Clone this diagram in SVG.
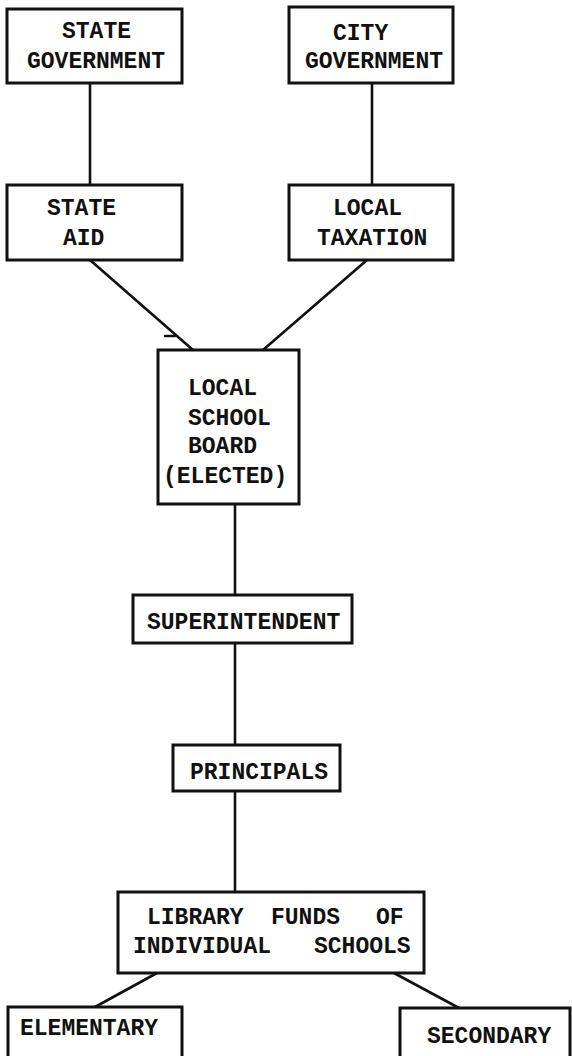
<svg xmlns="http://www.w3.org/2000/svg" width="572" height="1056" viewBox="0 0 572 1056">
  <style>
    .box { fill: #fff; stroke: #111; stroke-width: 3; }
    .wire { stroke: #111; stroke-width: 2.6; fill: none; stroke-linecap: round; }
    .lbl { font-family: "Liberation Mono", "DejaVu Sans Mono", monospace; font-size: 23px; font-weight: bold; fill: #111; }
  </style>
  <rect width="572" height="1056" fill="#fff"/>

  <!-- connectors -->
  <g id="connectors">
    <line class="wire" x1="90" y1="83" x2="90" y2="185"/>
    <line class="wire" x1="372" y1="83" x2="372" y2="185"/>
    <line class="wire" x1="90" y1="260" x2="193" y2="350"/>
    <line class="wire" x1="367" y1="260" x2="263" y2="350"/>
    <line class="wire" x1="165" y1="336" x2="175" y2="336" stroke-width="1.5"/>
    <line class="wire" x1="235" y1="504" x2="235" y2="595"/>
    <line class="wire" x1="235" y1="643" x2="235" y2="745"/>
    <line class="wire" x1="235" y1="791" x2="235" y2="892"/>
    <line class="wire" x1="157" y1="973" x2="95" y2="1007"/>
    <line class="wire" x1="394" y1="973" x2="459" y2="1008"/>
  </g>

  <g id="state-government">
    <rect class="box" x="7" y="9" width="175" height="74"/>
    <text class="lbl" x="62" y="38">STATE</text>
    <text class="lbl" x="27" y="68">GOVERNMENT</text>
  </g>

  <g id="city-government">
    <rect class="box" x="289" y="7" width="164" height="76"/>
    <text class="lbl" x="333" y="40">CITY</text>
    <text class="lbl" x="305" y="68">GOVERNMENT</text>
  </g>

  <g id="state-aid">
    <rect class="box" x="7" y="185" width="175" height="75"/>
    <text class="lbl" x="47" y="215">STATE</text>
    <text class="lbl" x="63" y="245">AID</text>
  </g>

  <g id="local-taxation">
    <rect class="box" x="289" y="185" width="164" height="75"/>
    <text class="lbl" x="333" y="215">LOCAL</text>
    <text class="lbl" x="317" y="245">TAXATION</text>
  </g>

  <g id="local-school-board">
    <rect class="box" x="158" y="350" width="141" height="154"/>
    <text class="lbl" x="188" y="395">LOCAL</text>
    <text class="lbl" x="188" y="425">SCHOOL</text>
    <text class="lbl" x="188" y="453">BOARD</text>
    <text class="lbl" x="163" y="483">(ELECTED)</text>
  </g>

  <g id="superintendent">
    <rect class="box" x="133" y="595" width="219" height="48"/>
    <text class="lbl" x="147" y="629">SUPERINTENDENT</text>
  </g>

  <g id="principals">
    <rect class="box" x="173" y="745" width="167" height="46"/>
    <text class="lbl" x="190" y="779">PRINCIPALS</text>
  </g>

  <g id="library-funds">
    <rect class="box" x="118" y="892" width="306" height="81"/>
    <text class="lbl" y="924"><tspan x="147">LIBRARY</tspan><tspan x="271">FUNDS</tspan><tspan x="376">OF</tspan></text>
    <text class="lbl" y="953"><tspan x="133">INDIVIDUAL</tspan><tspan x="314">SCHOOLS</tspan></text>
  </g>

  <g id="elementary">
    <rect class="box" x="8" y="1007" width="174" height="60"/>
    <text class="lbl" x="20" y="1035">ELEMENTARY</text>
  </g>

  <g id="secondary">
    <rect class="box" x="400" y="1008" width="170" height="60"/>
    <text class="lbl" x="427" y="1043">SECONDARY</text>
  </g>
</svg>
